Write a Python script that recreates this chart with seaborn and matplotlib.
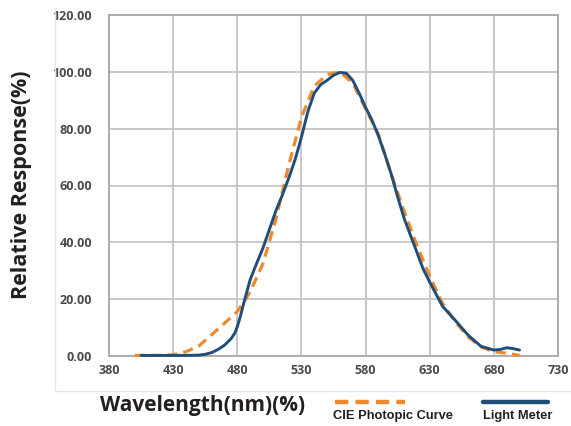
import matplotlib
matplotlib.use("Agg")
import matplotlib.pyplot as plt
import seaborn as sns
import pandas as pd
from matplotlib.lines import Line2D

# ---- data ----
series_names = ["CIE Photopic Curve", "Light Meter"]

cie_wl = [400, 410, 420, 430, 440, 450, 460, 470, 480, 490, 500, 510, 520, 530,
          540, 550, 560, 570, 580, 590, 600, 610, 620, 630, 640, 650, 660, 670,
          680, 690, 700]
cie_resp = [0.2, 0.2, 0.2, 0.4, 1.5, 3.5, 7.5, 11.5, 15.6, 22.5, 32.5, 48.0, 67.0, 84.0,
            95.0, 99.0, 100.0, 96.0, 87.0, 78.0, 64.0, 51.0, 39.0, 28.0, 18.5, 12.0, 6.7, 3.2,
            1.5, 1.0, 0.2]

meter_wl = [405, 420, 430, 440, 450, 455, 460, 465, 470, 475, 478, 480, 482, 485,
            488, 490, 495, 500, 505, 510, 515, 520, 525, 530, 535, 540, 545, 550,
            555, 560, 565, 570, 575, 580, 585, 590, 595, 600, 605, 610, 615, 620,
            625, 630, 640, 650, 660, 670, 680, 685, 690, 695, 700]
meter_resp = [0.2, 0.2, 0.2, 0.2, 0.3, 0.6, 1.2, 2.3, 3.8, 6.0, 8.0, 10.3, 13.3, 18.5,
              23.5, 26.8, 32.5, 38.0, 44.5, 51.0, 56.5, 62.5, 69.0, 77.0, 86.0, 92.5, 95.5, 97.0,
              98.8, 99.8, 99.5, 97.0, 92.5, 87.5, 83.0, 77.5, 71.0, 64.0, 56.0, 48.5, 42.5, 36.5,
              30.5, 26.0, 17.5, 12.5, 7.3, 3.4, 2.1, 2.3, 2.9, 2.6, 2.1]

x_ticks = [380, 430, 480, 530, 580, 630, 680, 730]
y_ticks = [0, 20, 40, 60, 80, 100, 120]

x_title = "Wavelength(nm)(%)"
y_title = "Relative Response(%)"

# ---- styling ----
ORANGE = "#EE8A2E"
BLUE = "#1F4E79"
GRID = "#c4c4c4"
TXT = "#231f20"
TICK = "#4a4a4a"

sns.set_theme(style="whitegrid")
plt.rcParams['font.family'] = ['Open Sans', 'DejaVu Sans']

W, H = 571, 426
fig = plt.figure(figsize=(W / 100, H / 100), dpi=100)
fig.patch.set_facecolor("white")
ax = fig.add_axes([109 / W, 70 / H, 449 / W, 341 / H])

df_cie = pd.DataFrame({"wl": cie_wl, "resp": cie_resp})
df_meter = pd.DataFrame({"wl": meter_wl, "resp": meter_resp})

sns.lineplot(data=df_cie, x="wl", y="resp", ax=ax, color=ORANGE, linewidth=2.3,
             linestyle=(0, (3.2, 1.9)), clip_on=False, zorder=3)
sns.lineplot(data=df_meter, x="wl", y="resp", ax=ax, color=BLUE, linewidth=2.1,
             clip_on=False, zorder=4)

ax.set_xlim(380, 730)
ax.set_ylim(0, 120)
ax.set_xticks(x_ticks)
ax.set_yticks(y_ticks)
ax.set_xticklabels([str(t) for t in x_ticks])
ax.set_yticklabels([f"{t:.2f}" for t in y_ticks])
ax.set_xlabel("")
ax.set_ylabel("")
ax.grid(True, color=GRID, linewidth=1.3)
ax.set_facecolor("white")
for s in ax.spines.values():
    s.set_visible(True)
    s.set_color("#a8a8a8")
    s.set_linewidth(1.3)
ax.tick_params(axis="both", length=0, labelsize=9, labelcolor=TICK)
ax.tick_params(axis="x", pad=6)
ax.tick_params(axis="y", pad=12)
for lab in ax.get_xticklabels() + ax.get_yticklabels():
    lab.set_fontweight("bold")

# faint chart-area frame
fig.add_artist(Line2D([55 / W, 55 / W], [1 - 8 / H, 1 - 391 / H], color="#e6e6e6", lw=1))
fig.add_artist(Line2D([55 / W, 1.0], [1 - 391 / H, 1 - 391 / H], color="#e6e6e6", lw=1))

# axis titles
fig.text(22 / W, 1 - 185 / H, y_title, rotation=90, ha="center", va="center",
         fontsize=15.5, fontweight="bold", color=TXT)
fig.text(100 / W, 1 - 405 / H, x_title, ha="left", va="center",
         fontsize=15, fontweight="bold", color=TXT)

# legend (samples above labels)
fig.add_artist(Line2D([335 / W, 405 / W], [1 - 402 / H] * 2, color=ORANGE, lw=3.2,
                      linestyle=(0, (3.0, 1.6))))
fig.add_artist(Line2D([483 / W, 548 / W], [1 - 402 / H] * 2, color=BLUE, lw=3.2))
fig.text(333 / W, 1 - 416 / H, series_names[0], ha="left", va="center", fontsize=9.3,
         fontweight="bold", color=TXT, family=["Liberation Sans", "DejaVu Sans"])
fig.text(483 / W, 1 - 416 / H, series_names[1], ha="left", va="center", fontsize=9.3,
         fontweight="bold", color=TXT, family=["Liberation Sans", "DejaVu Sans"])

fig.savefig("out.png", dpi=100)
